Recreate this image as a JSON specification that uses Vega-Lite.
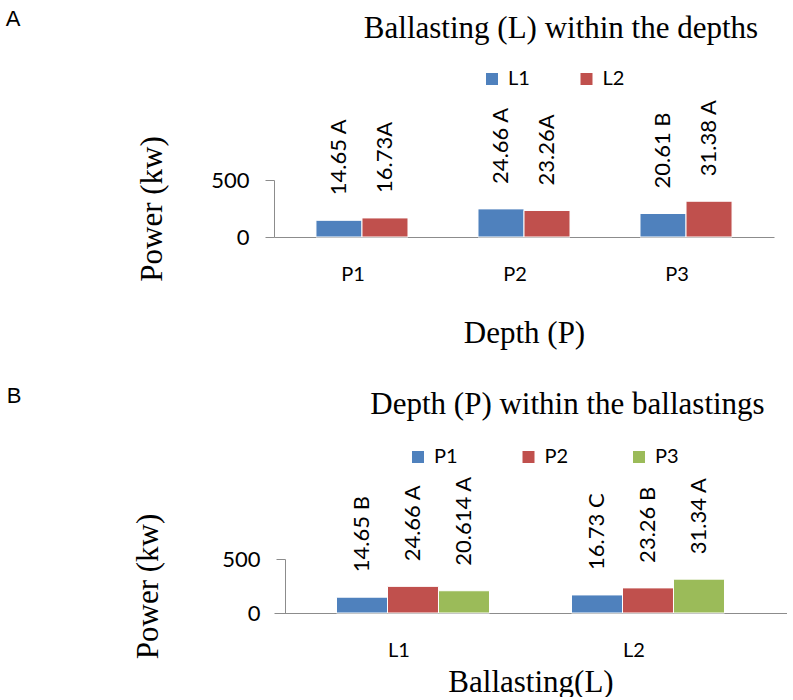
{
  "$schema": "https://vega.github.io/schema/vega-lite/v6.json",
  "padding": {"left": 5, "top": 8, "right": 0, "bottom": 0},
  "background": "white",
  "spacing": 37,
  "config": {
    "view": {"stroke": null},
    "font": "Lato",
    "axis": {"labelFont": "Lato", "labelColor": "black", "titleFont": "Liberation Serif", "titleFontWeight": "normal", "titleColor": "black", "domainColor": "#8c8c8c", "tickColor": "#8c8c8c", "grid": false},
    "title": {"font": "Liberation Serif", "fontWeight": "normal", "fontSize": 31, "color": "black"},
    "legend": {"title": null, "orient": "none", "direction": "horizontal", "symbolType": "square", "symbolSize": 144, "symbolStrokeWidth": 0, "symbolOpacity": 1, "labelFont": "Lato", "labelFontSize": 20, "labelColor": "black", "labelOffset": 6, "padding": 0}
  },
  "resolve": {"scale": {"color": "independent", "x": "independent", "y": "independent", "xOffset": "independent"}, "legend": {"color": "independent"}},
  "datasets": {
    "A": [
      {"depth": "P1", "ballast": "L1", "power": 146.5, "label": "14.65 A"},
      {"depth": "P1", "ballast": "L2", "power": 167.3, "label": "16.73A"},
      {"depth": "P2", "ballast": "L1", "power": 246.6, "label": "24.66 A"},
      {"depth": "P2", "ballast": "L2", "power": 232.6, "label": "23.26A"},
      {"depth": "P3", "ballast": "L1", "power": 206.1, "label": "20.61 B"},
      {"depth": "P3", "ballast": "L2", "power": 313.8, "label": "31.38 A"}
    ],
    "B": [
      {"ballast": "L1", "depth": "P1", "power": 146.5, "label": "14.65 B"},
      {"ballast": "L1", "depth": "P2", "power": 246.6, "label": "24.66 A"},
      {"ballast": "L1", "depth": "P3", "power": 206.14, "label": "20.614 A"},
      {"ballast": "L2", "depth": "P1", "power": 167.3, "label": "16.73 C"},
      {"ballast": "L2", "depth": "P2", "power": 232.6, "label": "23.26 B"},
      {"ballast": "L2", "depth": "P3", "power": 313.4, "label": "31.34 A"}
    ]
  },
  "vconcat": [
    {
      "title": {"text": "A", "anchor": "start", "font": "Liberation Sans", "fontSize": 22, "dx": -131, "dy": 18, "offset": 0},
      "vconcat": [
        {
          "width": 500,
          "height": 57,
          "title": {"text": "Ballasting (L) within the depths", "anchor": "middle", "dx": 37, "offset": 54},
          "data": {"name": "A"},
          "encoding": {
            "x": {"field": "depth", "type": "nominal", "scale": {"paddingInner": 0.432, "paddingOuter": 0.259},
                  "axis": {"title": "Depth (P)", "labelAngle": 0, "ticks": false, "tickSize": 0, "labelPadding": 27, "labelOffset": -9, "labelFontSize": 20, "titleFontSize": 31, "titlePadding": 34}},
            "xOffset": {"field": "ballast", "type": "nominal", "scale": {"paddingInner": 0, "paddingOuter": 0}},
            "y": {"field": "power", "type": "quantitative", "scale": {"domain": [0, 500], "nice": false},
                  "axis": {"title": "Power (kw)", "values": [0, 500], "tickSize": 9, "labelPadding": 16, "labelFontSize": 22, "titleFontSize": 31, "titlePadding": 42}}
          },
          "layer": [
            {"mark": {"type": "bar", "stroke": "white", "strokeWidth": 1},
             "encoding": {"color": {"field": "ballast", "type": "nominal", "scale": {"domain": ["L1", "L2"], "range": ["#4F81BD", "#C0504D"]},
                                    "legend": {"legendX": 208, "legendY": -111, "columnPadding": 46.5}}}},
            {"mark": {"type": "text", "angle": 270, "align": "left", "baseline": "middle", "dx": 25, "font": "Lato", "fontSize": 22, "color": "black"},
             "encoding": {"text": {"field": "label", "type": "nominal"}}}
          ]
        }
      ]
    },
    {
      "title": {"text": "B", "anchor": "start", "font": "Liberation Sans", "fontSize": 22, "dx": -126, "dy": 19, "offset": 0},
      "vconcat": [
        {
          "width": 513,
          "height": 54,
          "title": {"text": "Depth (P) within the ballastings", "anchor": "middle", "dx": 37, "offset": 55},
          "data": {"name": "B"},
          "encoding": {
            "x": {"field": "ballast", "type": "nominal", "scale": {"paddingInner": 0.349, "paddingOuter": 0.266},
                  "axis": {"title": "Ballasting(L)", "labelAngle": 0, "ticks": false, "tickSize": 0, "labelPadding": 27, "labelOffset": -14, "labelFontSize": 20, "titleFontSize": 31, "titlePadding": 7}},
            "xOffset": {"field": "depth", "type": "nominal", "scale": {"paddingInner": 0, "paddingOuter": 0}},
            "y": {"field": "power", "type": "quantitative", "scale": {"domain": [0, 500], "nice": false},
                  "axis": {"title": "Power (kw)", "values": [0, 500], "offset": -11, "tickSize": 9, "labelPadding": 16, "labelFontSize": 22, "titleFontSize": 31, "titlePadding": 57}}
          },
          "layer": [
            {"mark": {"type": "bar", "stroke": "white", "strokeWidth": 1},
             "encoding": {"color": {"field": "depth", "type": "nominal", "scale": {"domain": ["P1", "P2", "P3"], "range": ["#4F81BD", "#C0504D", "#9BBB59"]},
                                    "legend": {"legendX": 134, "legendY": -112, "columnPadding": 60.5}}}},
            {"mark": {"type": "text", "angle": 270, "align": "left", "baseline": "middle", "dx": 25, "font": "Lato", "fontSize": 22, "color": "black"},
             "encoding": {"text": {"field": "label", "type": "nominal"}}}
          ]
        }
      ]
    }
  ]
}
